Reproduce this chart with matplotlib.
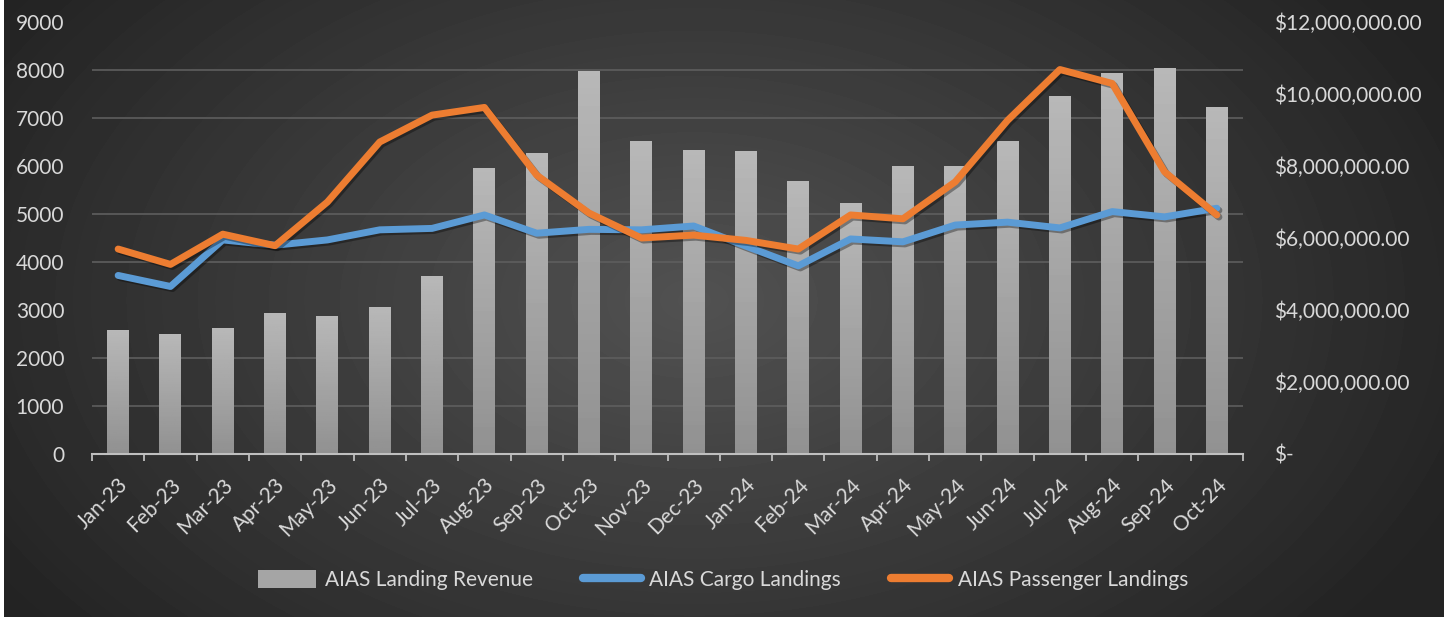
import numpy as np
import matplotlib
matplotlib.use("Agg")
import matplotlib.pyplot as plt
import matplotlib.patheffects as pe
import matplotlib.transforms as mtransforms
from matplotlib.lines import Line2D
from matplotlib.patches import Patch

plt.rcParams["font.family"] = ["Lato", "DejaVu Sans"]

# 数据
months = ["Jan-23", "Feb-23", "Mar-23", "Apr-23", "May-23", "Jun-23", "Jul-23",
          "Aug-23", "Sep-23", "Oct-23", "Nov-23", "Dec-23", "Jan-24", "Feb-24",
          "Mar-24", "Apr-24", "May-24", "Jun-24", "Jul-24", "Aug-24", "Sep-24",
          "Oct-24"]
revenue = [3440000, 3330000, 3500000, 3920000, 3830000, 4080000, 4940000,
           7940000, 8360000, 10640000, 8690000, 8440000, 8420000, 7580000,
           6970000, 8000000, 8000000, 8690000, 9940000, 10580000, 10720000,
           9640000]
cargo = [3720, 3490, 4460, 4350, 4460, 4670, 4700, 4980, 4600, 4680, 4670,
         4750, 4330, 3920, 4480, 4420, 4770, 4830, 4710, 5050, 4940, 5120]
passenger = [4270, 3950, 4580, 4340, 5250, 6500, 7060, 7220, 5810, 5020, 4500,
             4560, 4450, 4270, 4980, 4900, 5670, 6950, 8010, 7720, 5880, 4980]
rev_ticks = np.arange(0, 12000001, 2000000)
count_ticks = np.arange(0, 9001, 1000)

TXT = "#d9d9d9"
W, H = 1446, 619

fig = plt.figure(figsize=(W / 100, H / 100), dpi=100)
fig.patch.set_facecolor("white")

# 背景：径向渐变
bg = fig.add_axes([4 / W, 2 / H, 1440 / W, 617 / H])
bg.set_zorder(-5)
yy, xx = np.mgrid[0:617, 0:1440]
d = np.sqrt(((xx - 690) / 820.0) ** 2 + ((yy - 300) / 520.0) ** 2)
shade = 0.32 + (0.14 - 0.32) * np.clip(d, 0, 1)
bg.imshow(shade, cmap="gray", vmin=0, vmax=1, aspect="auto", interpolation="bilinear")
bg.axis("off")

ax = fig.add_axes([92 / W, (H - 454) / H, (1243 - 92) / W, (454 - 22) / H])
ax.patch.set_visible(False)
x = np.arange(len(months))

# 柱：收入（右轴）
bars = ax.bar(x, revenue, width=0.42, color="#a5a5a5", zorder=2)
grad = np.linspace(0.72, 0.57, 64).reshape(-1, 1)
for b in bars:
    x0, w, h = b.get_x(), b.get_width(), b.get_height()
    im = ax.imshow(grad, cmap="gray", vmin=0, vmax=1, aspect="auto",
                   extent=[x0, x0 + w, 0, h], origin="upper", zorder=2.5)
    im.set_clip_path(b)
ax.set_xlim(-0.5, len(months) - 0.5)
ax.set_ylim(0, 12000000)
ax.set_aspect("auto")

ax.set_xticks(x)
ax.set_xticklabels(months, rotation=45, ha="right", rotation_mode="anchor")
shift = mtransforms.ScaledTranslation(4 / 100, 0, fig.dpi_scale_trans)
for lab in ax.get_xticklabels():
    lab.set_transform(lab.get_transform() + shift)
ax.set_xticks(np.arange(-0.5, len(months)), minor=True)
ax.tick_params(axis="x", which="major", length=0, pad=15, labelsize=15, labelcolor=TXT)
ax.tick_params(axis="x", which="minor", length=5, width=1.3, color="#bfbfbf", direction="out")
for s in ["top", "left", "right"]:
    ax.spines[s].set_visible(False)
ax.spines["bottom"].set_color("#bfbfbf")
ax.spines["bottom"].set_linewidth(1.5)
ax.spines["bottom"].set_zorder(3)

# 折线：着陆次数（左轴）
ax2 = ax.twinx()
ax2.patch.set_visible(False)
shadow = [pe.SimpleLineShadow(offset=(1.5, -1.5), shadow_color="black", alpha=0.35), pe.Normal()]
ax2.plot(x, cargo, color="#5b9bd5", lw=5, solid_joinstyle="round",
         solid_capstyle="round", path_effects=shadow, zorder=3)
ax2.plot(x, passenger, color="#ed7d31", lw=5, solid_joinstyle="round",
         solid_capstyle="round", path_effects=shadow, zorder=4)
ax2.set_ylim(0, 9000)
ax2.set_yticks(count_ticks)
for s in ax2.spines.values():
    s.set_visible(False)

# twinx 之后再换边
ax.yaxis.tick_right()
ax2.yaxis.tick_left()
ax.set_yticks(rev_ticks)
ax.set_yticklabels(["$-" if v == 0 else f"${v:,.2f}" for v in rev_ticks])
ax.set_yticks(np.linspace(0, 12000000, 10), minor=True)
ax.grid(axis="y", which="minor", color="#5e5e5e", lw=1.2, zorder=0)
ax.tick_params(axis="y", which="both", length=0, pad=22, labelsize=15, labelcolor=TXT,
               left=False, labelleft=False, right=True, labelright=True)
ax2.tick_params(axis="y", length=0, pad=20, labelsize=15, labelcolor=TXT,
                right=False, labelright=False, left=True, labelleft=True)

handles = [Patch(facecolor="#a5a5a5", edgecolor="none"),
           Line2D([], [], color="#5b9bd5", lw=6, solid_capstyle="round"),
           Line2D([], [], color="#ed7d31", lw=6, solid_capstyle="round")]
labels = ["AIAS Landing Revenue", "AIAS Cargo Landings", "AIAS Passenger Landings"]
leg = fig.legend(handles, labels, loc="center", bbox_to_anchor=(0.5, 1 - 580 / H),
                 ncol=3, frameon=False, fontsize=15, labelcolor=TXT,
                 handlelength=2.8, handleheight=1.0, columnspacing=2.4, handletextpad=0.4)

fig.savefig("out.png", dpi=100)
